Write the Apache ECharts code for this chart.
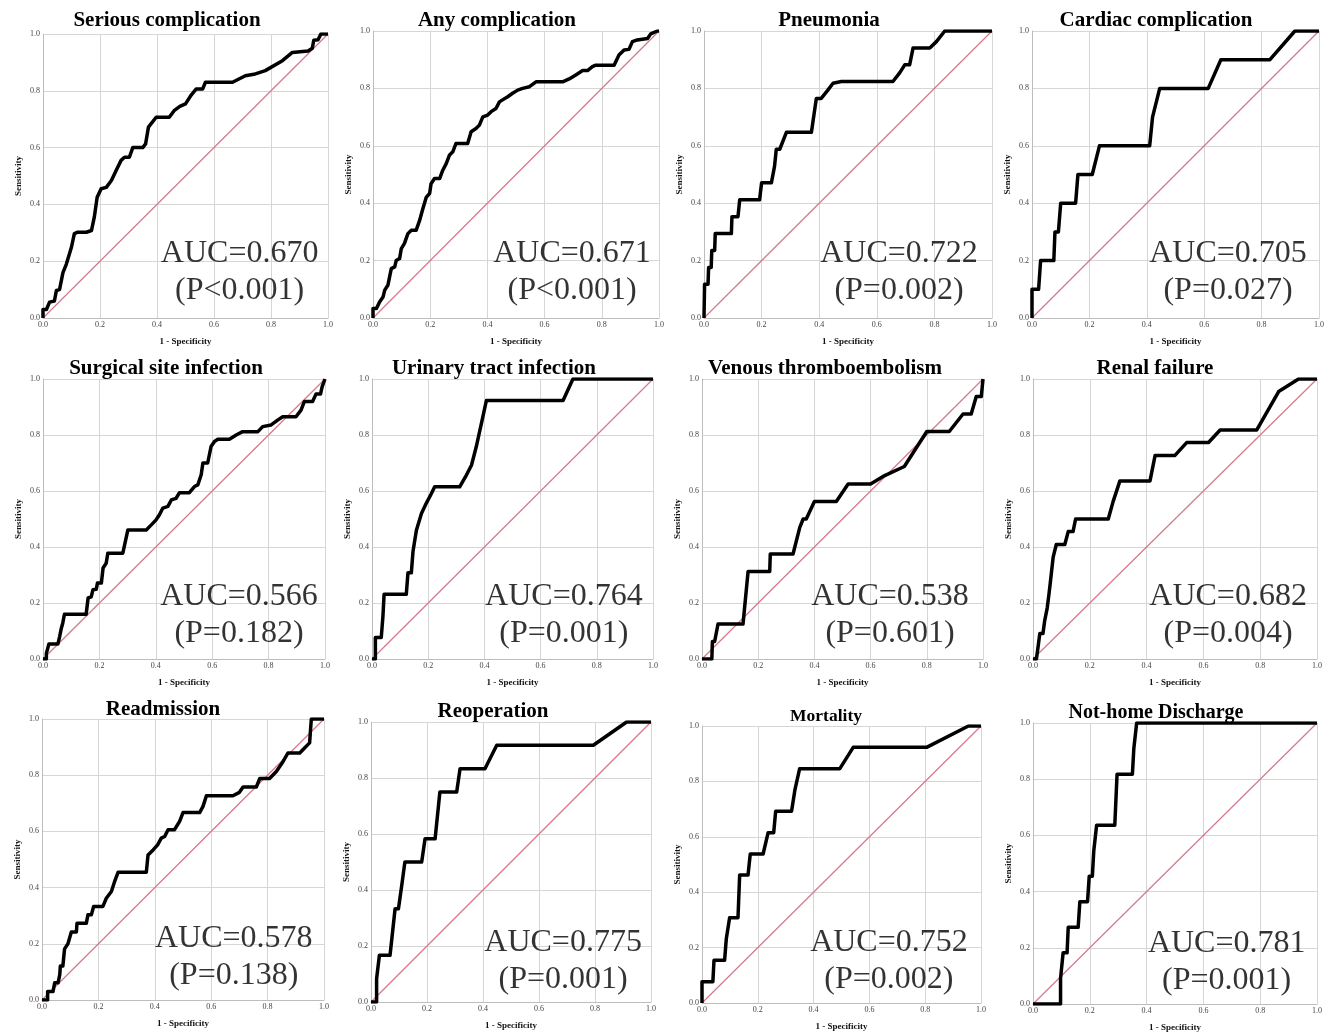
<!DOCTYPE html>
<html>
<head>
<meta charset="utf-8">
<script src="https://cdn.jsdelivr.net/npm/echarts@6/dist/echarts.min.js"></script>
<style>
html,body{margin:0;padding:0;background:#fff;}
#chart{width:1330px;height:1036px;}
</style>
</head>
<body>
<div id="chart"></div>
<script>
// ---------- DATA ----------
const titles = ["Serious complication","Any complication","Pneumonia","Cardiac complication",
  "Surgical site infection","Urinary tract infection","Venous thromboembolism","Renal failure",
  "Readmission","Reoperation","Mortality","Not-home Discharge"];
const aucLabels = ["AUC=0.670","AUC=0.671","AUC=0.722","AUC=0.705","AUC=0.566","AUC=0.764",
  "AUC=0.538","AUC=0.682","AUC=0.578","AUC=0.775","AUC=0.752","AUC=0.781"];
const pLabels = ["(P<0.001)","(P<0.001)","(P=0.002)","(P=0.027)","(P=0.182)","(P=0.001)",
  "(P=0.601)","(P=0.004)","(P=0.138)","(P=0.001)","(P=0.002)","(P=0.001)"];
const tickValues = [0,0.2,0.4,0.6,0.8,1.0];
const xAxisTitle = "1 - Specificity";
const yAxisTitle = "Sensitivity";
const reference = [[0,0],[1,1]];

// ROC curves: [1 - specificity, sensitivity]
const rocSerious = [[0,0],[0,0.03],[0.012,0.03],[0.023,0.056],[0.04,0.06],[0.047,0.097],[0.058,0.1],[0.07,0.16],[0.082,0.19],[0.1,0.25],[0.11,0.297],[0.122,0.302],[0.152,0.302],[0.17,0.308],[0.18,0.355],[0.19,0.425],[0.204,0.455],[0.222,0.46],[0.24,0.484],[0.257,0.52],[0.274,0.555],[0.286,0.566],[0.303,0.566],[0.315,0.6],[0.35,0.6],[0.36,0.613],[0.365,0.613],[0.37,0.672],[0.397,0.707],[0.443,0.707],[0.46,0.73],[0.48,0.745],[0.5,0.754],[0.52,0.785],[0.537,0.806],[0.56,0.806],[0.57,0.83],[0.665,0.83],[0.71,0.853],[0.74,0.858],[0.78,0.871],[0.84,0.906],[0.875,0.935],[0.93,0.94],[0.945,0.95],[0.95,0.978],[0.965,0.98],[0.975,1.0],[1,1]];
const rocAny = [[0,0],[0,0.033],[0.012,0.033],[0.023,0.056],[0.035,0.073],[0.041,0.097],[0.052,0.114],[0.058,0.143],[0.064,0.172],[0.076,0.178],[0.081,0.2],[0.093,0.207],[0.099,0.242],[0.11,0.26],[0.122,0.294],[0.134,0.306],[0.151,0.306],[0.163,0.34],[0.174,0.38],[0.186,0.42],[0.198,0.434],[0.203,0.468],[0.215,0.486],[0.233,0.486],[0.244,0.515],[0.256,0.538],[0.267,0.567],[0.279,0.579],[0.29,0.608],[0.331,0.608],[0.343,0.649],[0.36,0.66],[0.372,0.672],[0.384,0.701],[0.401,0.707],[0.413,0.719],[0.43,0.73],[0.442,0.753],[0.453,0.76],[0.471,0.771],[0.488,0.783],[0.506,0.794],[0.523,0.8],[0.547,0.806],[0.57,0.823],[0.663,0.823],[0.686,0.833],[0.709,0.847],[0.733,0.862],[0.75,0.862],[0.767,0.876],[0.779,0.881],[0.843,0.881],[0.86,0.916],[0.878,0.934],[0.895,0.936],[0.907,0.963],[0.924,0.969],[0.96,0.974],[0.971,0.99],[0.994,1.0],[1,1]];
const rocPneumonia = [[0,0],[0.002,0],[0.002,0.118],[0.014,0.118],[0.016,0.176],[0.025,0.176],[0.027,0.235],[0.037,0.235],[0.039,0.294],[0.095,0.294],[0.097,0.353],[0.118,0.353],[0.124,0.412],[0.193,0.412],[0.2,0.471],[0.234,0.471],[0.245,0.529],[0.251,0.588],[0.263,0.588],[0.286,0.647],[0.373,0.647],[0.39,0.765],[0.407,0.765],[0.43,0.794],[0.448,0.818],[0.477,0.824],[0.656,0.824],[0.68,0.855],[0.697,0.882],[0.714,0.882],[0.726,0.941],[0.784,0.941],[0.807,0.963],[0.836,1.0],[1,1]];
const rocCardiac = [[0,0],[0,0.1],[0.023,0.1],[0.03,0.2],[0.076,0.2],[0.08,0.3],[0.092,0.3],[0.1,0.4],[0.152,0.4],[0.16,0.5],[0.21,0.5],[0.235,0.6],[0.41,0.6],[0.42,0.7],[0.445,0.8],[0.614,0.8],[0.658,0.9],[0.829,0.9],[0.916,1.0],[1,1]];
const rocSSI = [[0,0],[0.012,0],[0.012,0.02],[0.021,0.054],[0.053,0.054],[0.059,0.08],[0.065,0.11],[0.07,0.128],[0.076,0.16],[0.153,0.16],[0.16,0.218],[0.171,0.222],[0.177,0.247],[0.189,0.249],[0.193,0.271],[0.207,0.271],[0.213,0.325],[0.224,0.342],[0.23,0.378],[0.283,0.378],[0.301,0.461],[0.366,0.461],[0.384,0.479],[0.401,0.497],[0.413,0.515],[0.425,0.539],[0.443,0.545],[0.455,0.568],[0.472,0.574],[0.484,0.594],[0.519,0.594],[0.537,0.616],[0.549,0.622],[0.561,0.658],[0.567,0.7],[0.584,0.7],[0.596,0.759],[0.608,0.777],[0.62,0.785],[0.661,0.785],[0.685,0.8],[0.708,0.812],[0.762,0.812],[0.779,0.83],[0.809,0.836],[0.832,0.853],[0.85,0.865],[0.897,0.865],[0.915,0.889],[0.927,0.92],[0.956,0.92],[0.968,0.946],[0.984,0.946],[0.99,0.973],[1,1]];
const rocUTI = [[0,0],[0.012,0],[0.012,0.077],[0.033,0.077],[0.039,0.154],[0.043,0.231],[0.122,0.231],[0.128,0.308],[0.14,0.308],[0.146,0.385],[0.158,0.46],[0.176,0.52],[0.193,0.556],[0.211,0.59],[0.223,0.615],[0.312,0.615],[0.336,0.657],[0.354,0.692],[0.371,0.758],[0.389,0.84],[0.407,0.923],[0.68,0.923],[0.715,1.0],[1,1]];
const rocVTE = [[0,0],[0.035,0],[0.037,0.0625],[0.045,0.0625],[0.057,0.125],[0.146,0.125],[0.164,0.3125],[0.241,0.3125],[0.243,0.375],[0.324,0.375],[0.348,0.47],[0.36,0.5],[0.371,0.5],[0.4,0.5625],[0.478,0.5625],[0.52,0.625],[0.6,0.625],[0.65,0.655],[0.72,0.6875],[0.76,0.75],[0.8,0.8125],[0.88,0.8125],[0.929,0.875],[0.958,0.875],[0.976,0.9375],[0.994,0.9375],[1,1]];
const rocRenal = [[0,0],[0.012,0],[0.018,0.045],[0.024,0.091],[0.035,0.091],[0.041,0.136],[0.05,0.182],[0.056,0.23],[0.061,0.273],[0.068,0.273],[0.071,0.364],[0.076,0.366],[0.082,0.409],[0.112,0.409],[0.124,0.455],[0.141,0.455],[0.15,0.5],[0.265,0.5],[0.282,0.562],[0.306,0.636],[0.412,0.636],[0.43,0.727],[0.5,0.727],[0.541,0.773],[0.618,0.773],[0.659,0.818],[0.788,0.818],[0.865,0.955],[0.935,1.0],[1,1]];
const rocReadmission = [[0,0],[0.02,0],[0.02,0.03],[0.039,0.03],[0.045,0.061],[0.057,0.061],[0.063,0.09],[0.065,0.121],[0.074,0.121],[0.08,0.182],[0.092,0.2],[0.104,0.242],[0.122,0.242],[0.124,0.273],[0.157,0.273],[0.163,0.303],[0.175,0.303],[0.183,0.333],[0.216,0.333],[0.228,0.362],[0.246,0.386],[0.252,0.39],[0.257,0.42],[0.264,0.424],[0.27,0.455],[0.37,0.455],[0.376,0.516],[0.394,0.534],[0.41,0.552],[0.423,0.576],[0.435,0.582],[0.447,0.606],[0.47,0.606],[0.488,0.636],[0.5,0.667],[0.559,0.667],[0.571,0.689],[0.583,0.727],[0.677,0.727],[0.7,0.739],[0.713,0.758],[0.76,0.758],[0.772,0.788],[0.807,0.788],[0.831,0.813],[0.855,0.849],[0.872,0.879],[0.914,0.879],[0.931,0.897],[0.949,0.915],[0.955,1.0],[1,1]];
const rocReoperation = [[0,0],[0.02,0],[0.02,0.083],[0.026,0.083],[0.03,0.167],[0.068,0.167],[0.086,0.333],[0.098,0.333],[0.11,0.418],[0.121,0.5],[0.181,0.5],[0.193,0.583],[0.229,0.583],[0.246,0.75],[0.306,0.75],[0.318,0.833],[0.407,0.833],[0.449,0.917],[0.794,0.917],[0.913,1.0],[1,1]];
const rocMortality = [[0,0],[0,0.077],[0.039,0.077],[0.043,0.154],[0.081,0.154],[0.087,0.231],[0.093,0.231],[0.099,0.308],[0.129,0.308],[0.135,0.462],[0.165,0.462],[0.173,0.538],[0.219,0.538],[0.237,0.615],[0.257,0.615],[0.264,0.692],[0.321,0.692],[0.333,0.769],[0.35,0.846],[0.494,0.846],[0.542,0.923],[0.805,0.923],[0.955,1.0],[1,1]];
const rocNotHome = [[0,0],[0.097,0],[0.097,0.091],[0.104,0.091],[0.106,0.182],[0.12,0.182],[0.124,0.273],[0.159,0.273],[0.165,0.364],[0.192,0.364],[0.198,0.455],[0.209,0.455],[0.214,0.545],[0.221,0.545],[0.224,0.636],[0.288,0.636],[0.296,0.818],[0.35,0.818],[0.355,0.909],[0.361,0.909],[0.365,1.0],[1,1]];
const curves = [rocSerious,rocAny,rocPneumonia,rocCardiac,rocSSI,rocUTI,rocVTE,rocRenal,
  rocReadmission,rocReoperation,rocMortality,rocNotHome];

// ---------- LAYOUT (pixel boxes: left, top, right, bottom) ----------
const boxes = [
  [43,34,328,318],[373,31,659,318],[704,31,992,318],[1032,31,1319,318],
  [43,379,325,659],[372,379,653,659],[702,379,983,659],[1033,379,1317,659],
  [42,719,324,1000],[371,722,651,1002],[702,726,981,1003],[1033,723,1317,1004]
];
const titlePos = [[167,21],[497,21],[829,21],[1156,21],[166,369],[494,369],[825,369],[1155,369],
  [163,710],[493,712],[826,716],[1156,713]];
const titleSize = [21,21,21,21,21,21,21,21,21,21,17.5,20];
const textAnchor = [[0.69,0.16],[0.696,0.16],[0.677,0.16],[0.683,0.16],[0.695,0.158],[0.683,0.158],
  [0.669,0.158],[0.687,0.158],[0.68,0.153],[0.686,0.145],[0.67,0.15],[0.682,0.15]];

const serif = "'Liberation Serif','Times New Roman',serif";
const grid=[],xAxis=[],yAxis=[],series=[],graphic=[];
boxes.forEach((b,i)=>{
  grid.push({left:b[0],top:b[1],width:b[2]-b[0],height:b[3]-b[1],containLabel:false});
  const common = {
    gridIndex:i,type:'value',min:0,max:1,interval:0.2,
    axisTick:{show:false},
    axisLine:{show:true,lineStyle:{color:'#bdbdbd',width:1}},
    splitLine:{show:true,showMinLine:true,showMaxLine:true,lineStyle:{color:'#d6d6d6',width:1}},
    axisLabel:{fontSize:8,color:'#444',fontFamily:serif,
      formatter:v=>{const t=tickValues.find(q=>Math.abs(q-v)<1e-9);return t===undefined?'':t.toFixed(1);}},
    nameTextStyle:{fontSize:9,fontWeight:'bold',color:'#111',fontFamily:serif}
  };
  xAxis.push(Object.assign({},common,{name:xAxisTitle,nameLocation:'middle',nameGap:19,
    axisLabel:Object.assign({},common.axisLabel,{margin:3})}));
  yAxis.push(Object.assign({},common,{name:yAxisTitle,nameLocation:'middle',nameGap:20,nameRotate:90,
    axisLabel:Object.assign({},common.axisLabel,{margin:3})}));
  series.push({type:'line',xAxisIndex:i,yAxisIndex:i,data:reference,showSymbol:false,silent:true,
    lineStyle:{color:'#d4788a',width:1.2},z:2,animation:false});
  series.push({type:'line',xAxisIndex:i,yAxisIndex:i,data:curves[i],showSymbol:false,silent:true,
    lineStyle:{color:'#000',width:3.5,join:'round'},z:3,animation:false});
  series.push({type:'scatter',xAxisIndex:i,yAxisIndex:i,data:[textAnchor[i]],symbolSize:0,silent:true,z:4,animation:false,
    label:{show:true,position:'inside',formatter:aucLabels[i]+'\n'+pLabels[i],
      fontSize:32,lineHeight:37,color:'#000',textBorderWidth:0,fontFamily:serif,align:'center',verticalAlign:'middle'}});
  graphic.push({type:'text',x:titlePos[i][0],y:titlePos[i][1],z:10,
    style:{text:titles[i],fontSize:titleSize[i],fontWeight:'bold',fontFamily:serif,fill:'#000',
      textAlign:'center',textVerticalAlign:'middle'}});
});

const chart = echarts.init(document.getElementById('chart'),null,{renderer:'canvas'});
chart.setOption({backgroundColor:'#fff',animation:false,grid,xAxis,yAxis,series,graphic});
</script>
</body>
</html>
